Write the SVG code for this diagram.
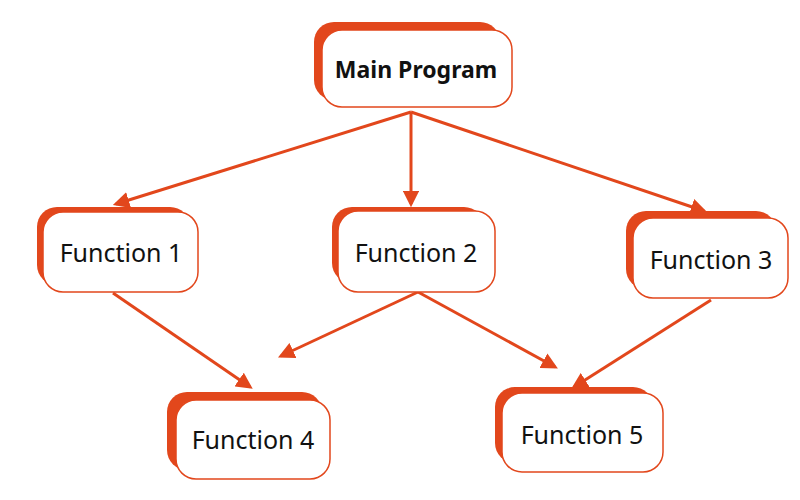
<svg xmlns="http://www.w3.org/2000/svg" width="800" height="500" viewBox="0 0 800 500">
<defs>
<style>
.back{fill:#e2471c}
.front{fill:#fff;stroke:#e2471c;stroke-width:1.5}
.lbl{font-family:"Noto Sans","Liberation Sans",sans-serif;font-size:25px;fill:#111;text-anchor:middle}
.bold{font-weight:bold;font-size:23px}
.edge{stroke:#e2471c;stroke-width:3;fill:none;marker-end:url(#ah)}
</style>
<marker id="ah" viewBox="0 0 10 10" refX="8" refY="5" markerWidth="5.5" markerHeight="5.5" orient="auto" markerUnits="strokeWidth">
<path d="M0,0 L10,5 L0,10 z" fill="#e2471c"/>
</marker>
</defs>
<rect width="800" height="500" fill="#fff"/>
<g id="edges">
<line class="edge" x1="411" y1="112" x2="116" y2="204"/>
<line class="edge" x1="411" y1="112" x2="411" y2="204"/>
<line class="edge" x1="411" y1="112" x2="704" y2="211"/>
<line class="edge" x1="113" y1="293" x2="250" y2="387"/>
<line class="edge" x1="418" y1="292" x2="281" y2="356"/>
<line class="edge" x1="418" y1="292" x2="555" y2="367"/>
<line class="edge" x1="711" y1="300" x2="574" y2="387"/>
</g>
<g id="main">
<rect class="back" x="314" y="22" width="186" height="78" rx="20"/>
<rect class="front" x="322" y="30" width="190" height="77" rx="20"/>
<text class="lbl bold" x="416" y="78">Main Program</text>
</g>
<g id="f1">
<rect class="back" x="37" y="207" width="153" height="78" rx="20"/>
<rect class="front" x="43" y="212" width="155" height="80" rx="20"/>
<text class="lbl" x="121" y="262">Function 1</text>
</g>
<g id="f2">
<rect class="back" x="332" y="207" width="152" height="76" rx="20"/>
<rect class="front" x="338" y="211" width="157" height="81" rx="20"/>
<text class="lbl" x="416" y="262">Function 2</text>
</g>
<g id="f3">
<rect class="back" x="626" y="211" width="150" height="78" rx="20"/>
<rect class="front" x="633" y="218" width="155" height="80" rx="20"/>
<text class="lbl" x="711" y="269">Function 3</text>
</g>
<g id="f4">
<rect class="back" x="167" y="392" width="155" height="78" rx="20"/>
<rect class="front" x="176" y="400" width="154" height="79" rx="20"/>
<text class="lbl" x="253" y="449">Function 4</text>
</g>
<g id="f5">
<rect class="back" x="495" y="387" width="158" height="76" rx="20"/>
<rect class="front" x="502" y="393" width="161" height="79" rx="20"/>
<text class="lbl" x="582" y="444">Function 5</text>
</g>
</svg>
